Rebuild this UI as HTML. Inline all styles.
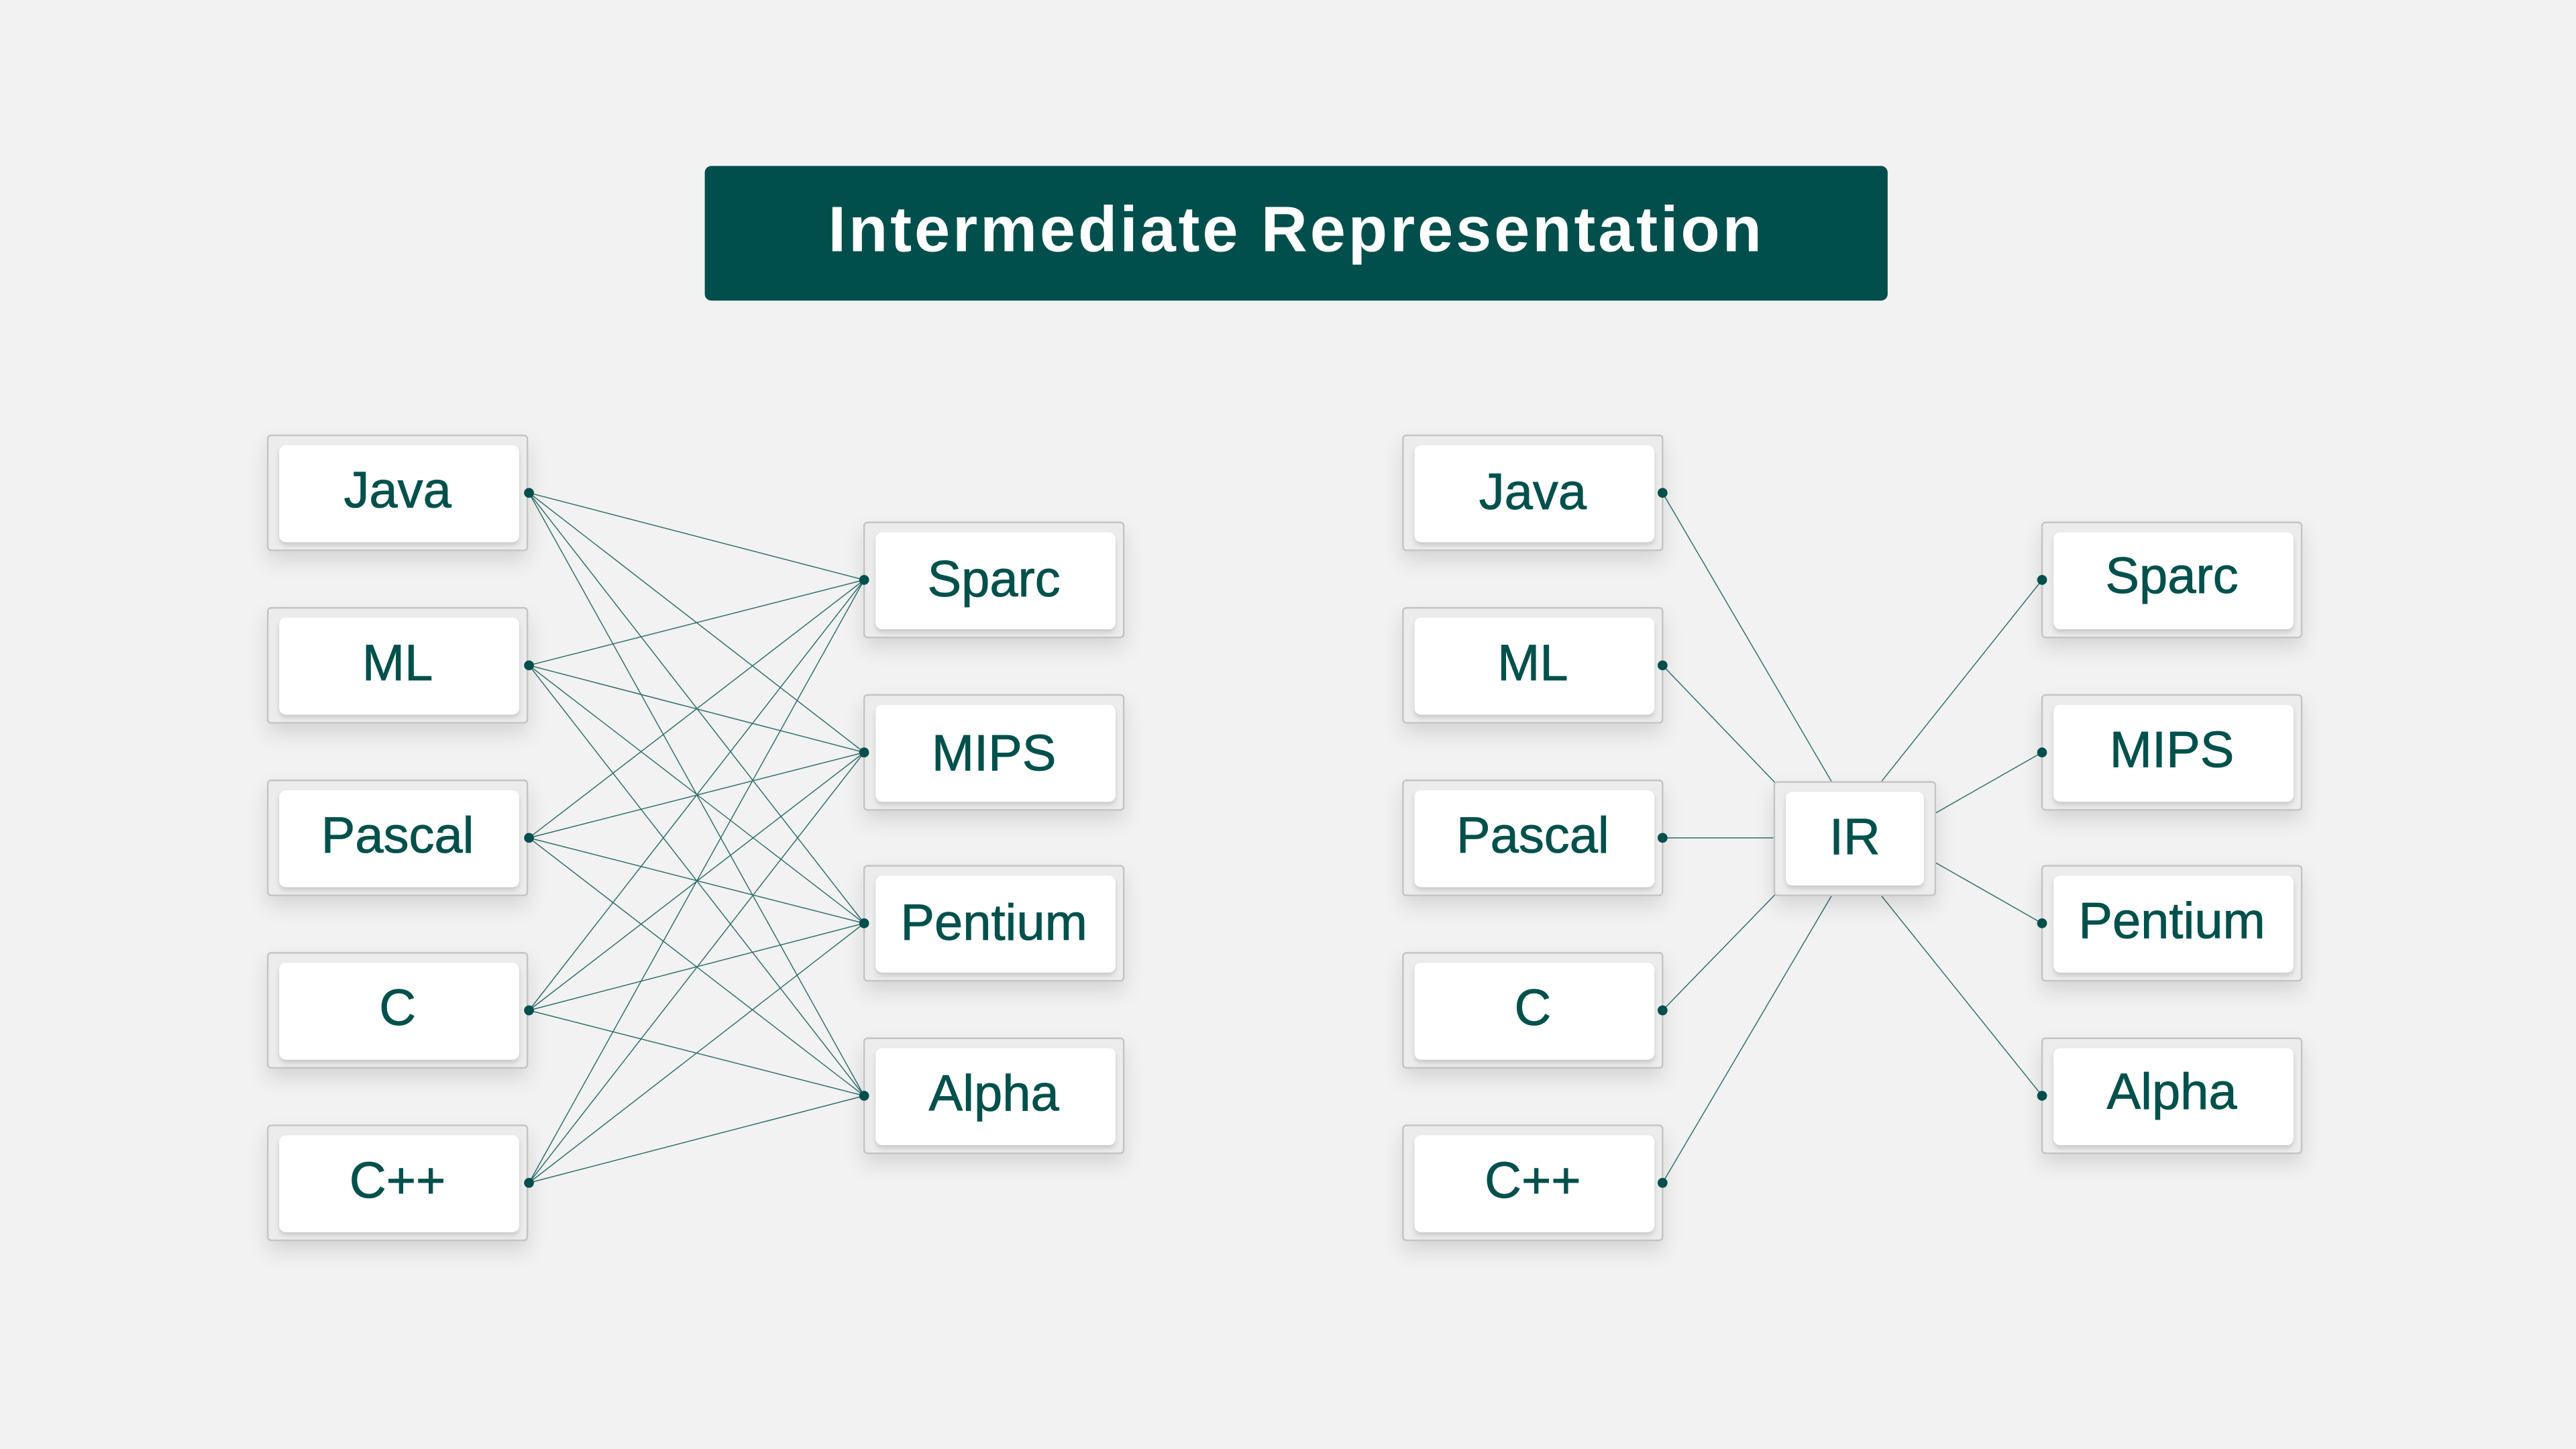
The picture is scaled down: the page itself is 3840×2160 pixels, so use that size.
<!DOCTYPE html>
<html><head><meta charset="utf-8"><style>
html,body{margin:0;padding:0;background:#f2f2f2;}
svg{display:block;}
text{font-family:"Liberation Sans",sans-serif;fill:#00504c;}
.lb text{stroke:#00504c;stroke-width:0.35;}
</style></head><body>
<svg width="3840" height="2160" viewBox="0 0 1568 882" xmlns="http://www.w3.org/2000/svg">
<defs>
<filter id="sh" x="-30%" y="-30%" width="160%" height="180%">
<feDropShadow dx="0" dy="6" stdDeviation="6" flood-color="#000" flood-opacity="0.12"/>
</filter>
<filter id="sh2" x="-10%" y="-10%" width="120%" height="140%">
<feDropShadow dx="0" dy="2" stdDeviation="1.5" flood-color="#000" flood-opacity="0.15"/>
</filter>
<g id="box">
<rect x="0" y="0" width="158" height="70" rx="2" fill="#ececec" stroke="#c4c4c4" stroke-width="1" filter="url(#sh)"/>
<rect x="7" y="6" width="146" height="59" rx="4" fill="#fff" stroke="none" filter="url(#sh2)"/>
</g>
</defs>
<rect width="1568" height="882" fill="#f2f2f2"/>
<rect x="429" y="101" width="720" height="82" rx="4" fill="#004f4c"/>
<text x="789" y="153" text-anchor="middle" font-size="39" font-weight="bold" style="fill:#fff" letter-spacing="1.6">Intermediate Representation</text>

<g stroke="#2d6e6a" stroke-width="0.6" fill="none">
<path d="M322 300L526 353M322 300L526 458M322 300L526 562M322 300L526 667
M322 405L526 353M322 405L526 458M322 405L526 562M322 405L526 667
M322 510L526 353M322 510L526 458M322 510L526 562M322 510L526 667
M322 615L526 353M322 615L526 458M322 615L526 562M322 615L526 667
M322 720L526 353M322 720L526 458M322 720L526 562M322 720L526 667"/>
<path d="M1012 300L1115 476M1012 405L1082 478M1012 510L1080 510M1012 615L1082 543M1012 720L1115 545
M1243 353L1145 476M1243 458L1178 495M1243 562L1178 525M1243 667L1145 545"/>
</g>

<g class="lb" font-size="31" text-anchor="middle">
<use href="#box" x="163" y="265"/><text x="242" y="309">Java</text>
<use href="#box" x="163" y="370"/><text x="242" y="414">ML</text>
<use href="#box" x="163" y="475"/><text x="242" y="519">Pascal</text>
<use href="#box" x="163" y="580"/><text x="242" y="624">C</text>
<use href="#box" x="163" y="685"/><text x="242" y="729">C++</text>

<use href="#box" x="526" y="318"/><text x="605" y="363">Sparc</text>
<use href="#box" x="526" y="423"/><text x="605" y="469">MIPS</text>
<use href="#box" x="526" y="527"/><text x="605" y="572">Pentium</text>
<use href="#box" x="526" y="632"/><text x="605" y="676">Alpha</text>

<use href="#box" x="854" y="265"/><text x="933" y="310">Java</text>
<use href="#box" x="854" y="370"/><text x="933" y="414">ML</text>
<use href="#box" x="854" y="475"/><text x="933" y="519">Pascal</text>
<use href="#box" x="854" y="580"/><text x="933" y="624">C</text>
<use href="#box" x="854" y="685"/><text x="933" y="729">C++</text>

<use href="#box" x="1243" y="318"/><text x="1322" y="361">Sparc</text>
<use href="#box" x="1243" y="423"/><text x="1322" y="467">MIPS</text>
<use href="#box" x="1243" y="527"/><text x="1322" y="571">Pentium</text>
<use href="#box" x="1243" y="632"/><text x="1322" y="675">Alpha</text>

<rect x="1080" y="476" width="98" height="69" rx="2" fill="#ececec" stroke="#c4c4c4" stroke-width="1" filter="url(#sh)"/>
<rect x="1087" y="482" width="84" height="57" rx="4" fill="#fff" stroke="none" filter="url(#sh2)"/>
<text x="1129" y="520">IR</text>
</g>

<g fill="#004f4c">
<circle cx="322" cy="300" r="3"/><circle cx="322" cy="405" r="3"/><circle cx="322" cy="510" r="3"/><circle cx="322" cy="615" r="3"/><circle cx="322" cy="720" r="3"/>
<circle cx="526" cy="353" r="3"/><circle cx="526" cy="458" r="3"/><circle cx="526" cy="562" r="3"/><circle cx="526" cy="667" r="3"/>
<circle cx="1012" cy="300" r="3"/><circle cx="1012" cy="405" r="3"/><circle cx="1012" cy="510" r="3"/><circle cx="1012" cy="615" r="3"/><circle cx="1012" cy="720" r="3"/>
<circle cx="1243" cy="353" r="3"/><circle cx="1243" cy="458" r="3"/><circle cx="1243" cy="562" r="3"/><circle cx="1243" cy="667" r="3"/>
</g>
</svg>
</body></html>
